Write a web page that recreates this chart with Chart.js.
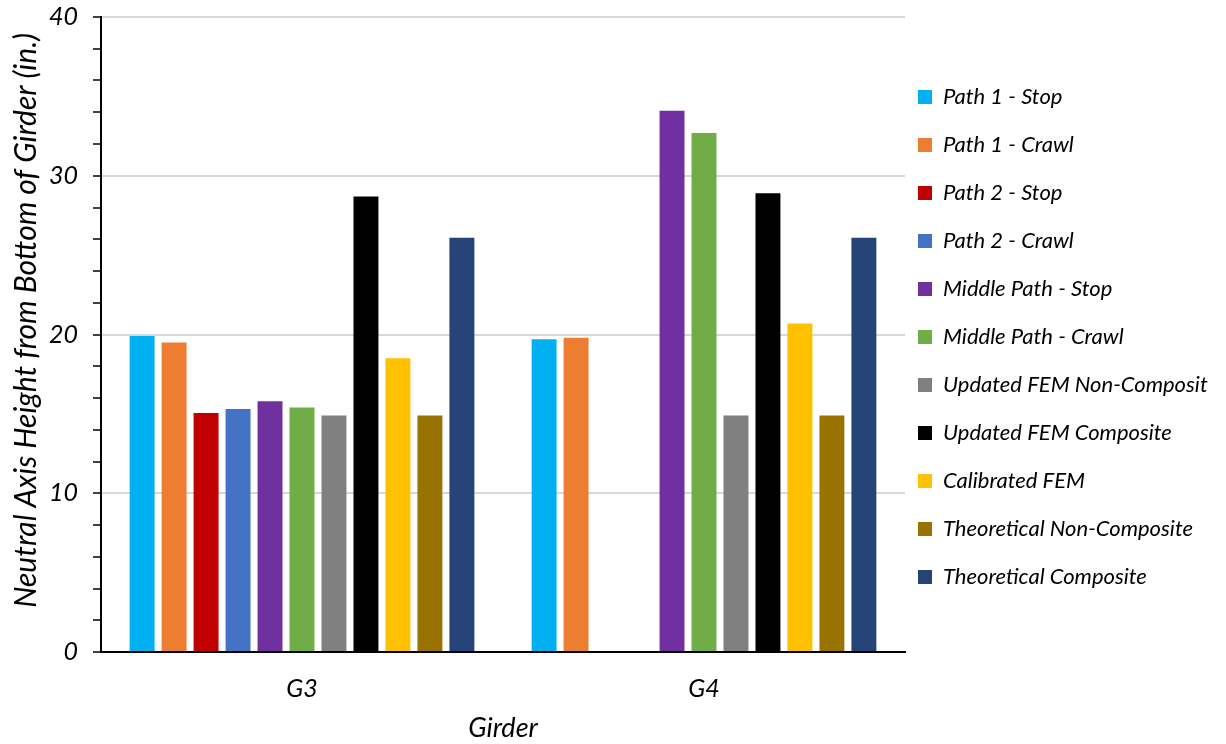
<!DOCTYPE html>
<html><head><meta charset="utf-8">
<script src="https://cdn.jsdelivr.net/npm/chart.js@4"></script>
<style>html,body{margin:0;padding:0;background:#fff}</style>
</head><body>
<canvas id="c" width="1226" height="744"></canvas>
<script>
// ---- data ----
const categories = ['G3', 'G4'];
const seriesNames = [
  'Path 1 - Stop', 'Path 1 - Crawl', 'Path 2 - Stop', 'Path 2 - Crawl',
  'Middle Path - Stop', 'Middle Path - Crawl', 'Updated FEM Non-Composit',
  'Updated FEM Composite', 'Calibrated FEM', 'Theoretical Non-Composite',
  'Theoretical Composite'
];
const seriesColors = ['#00B0F0', '#ED7D31', '#C00000', '#4472C4', '#7030A0', '#70AD47',
  '#808080', '#000000', '#FFC000', '#997300', '#264478'];
const path1Stop = [19.9, 19.7];
const path1Crawl = [19.5, 19.8];
const path2Stop = [15.05, null];
const path2Crawl = [15.3, null];
const middleStop = [15.8, 34.1];
const middleCrawl = [15.4, 32.7];
const updatedNonComposite = [14.9, 14.9];
const updatedComposite = [28.7, 28.9];
const calibratedFEM = [18.5, 20.7];
const theoreticalNonComposite = [14.9, 14.9];
const theoreticalComposite = [26.1, 26.1];
const yTickLabels = [0, 10, 20, 30, 40];

const seriesValues = [path1Stop, path1Crawl, path2Stop, path2Crawl, middleStop, middleCrawl,
  updatedNonComposite, updatedComposite, calibratedFEM, theoreticalNonComposite, theoreticalComposite];

const FONT = 'Lato';

const legendShift = {
  id: 'legendShift',
  afterLayout(chart) {
    const l = chart.legend;
    if (!l) return;
    l.left -= 13; l.right -= 13;
    l.top += 60; l.bottom += 60;
  }
};

new Chart(document.getElementById('c'), {
  type: 'bar',
  data: {
    labels: categories,
    datasets: seriesNames.map((n, i) => ({
      label: n,
      data: seriesValues[i],
      backgroundColor: seriesColors[i],
      borderWidth: 0,
      categoryPercentage: 0.875,
      barPercentage: 0.78
    }))
  },
  options: {
    responsive: false,
    devicePixelRatio: 1,
    animation: false,
    layout: { padding: { top: 0, bottom: 0, left: 0, right: 0 } },
    plugins: {
      tooltip: { enabled: false },
      legend: {
        position: 'right',
        align: 'start',
        maxWidth: 321,
        labels: {
          boxWidth: 14, boxHeight: 14, padding: 26, color: '#000',
          font: { family: FONT, size: 22, style: 'italic' }
        }
      }
    },
    scales: {
      x: {
        grid: { display: false, drawTicks: false },
        border: { color: '#000', width: 2 },
        ticks: { color: '#000', padding: 22, font: { family: FONT, size: 25, style: 'italic' } },
        title: { display: true, text: 'Girder', color: '#000', padding: { top: 0, bottom: 0 },
          font: { family: FONT, size: 27, style: 'italic' } },
        afterFit(s) { s.height = 92; }
      },
      y: {
        min: 0, max: 40,
        ticks: {
          stepSize: 2, autoSkip: false, color: '#000', padding: 15,
          font: { family: FONT, size: 25, style: 'italic' },
          callback: v => (yTickLabels.includes(v) ? v : '')
        },
        grid: {
          color: c => (c.tick && yTickLabels.includes(c.tick.value) ? '#d9d9d9' : 'rgba(0,0,0,0)'),
          lineWidth: 2, tickColor: '#000', tickLength: 8, tickWidth: 1.5
        },
        border: { color: '#000', width: 2 },
        title: { display: true, text: '    Neutral Axis Height from Bottom of Girder (in.)', color: '#000',
          padding: { top: 8, bottom: 0 }, font: { family: FONT, size: 30, style: 'italic' } },
        afterFit(s) { s.width = 101; s.paddingTop = 17; }
      }
    }
  },
  plugins: [legendShift]
});
</script>
</body></html>
